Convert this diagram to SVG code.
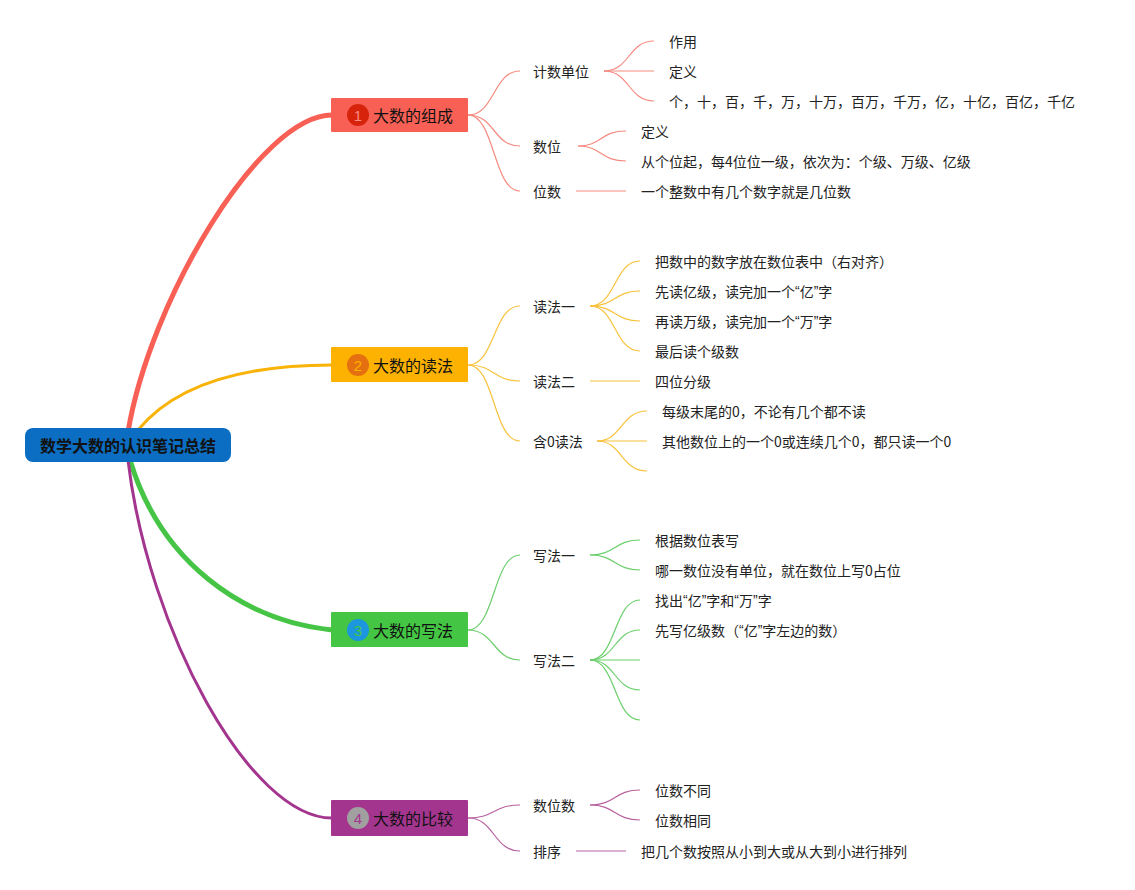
<svg xmlns="http://www.w3.org/2000/svg" width="1135" height="890" viewBox="0 0 1135 890">
<style>
text{font-family:"Noto Sans CJK SC","Liberation Sans",sans-serif;dominant-baseline:central;fill:#222}
.leaf{font-size:14px}
.topic{font-size:16px;fill:#111}
.num{font-size:15px;text-anchor:middle;font-family:"Liberation Sans",sans-serif}
.q{font-family:"Liberation Sans",sans-serif}
.c{fill:none}
.r{stroke:#f58a80;stroke-width:1.2}
.y{stroke:#f8c23c;stroke-width:1.2}
.g{stroke:#6ccf6c;stroke-width:1.2}
.p{stroke:#b8619f;stroke-width:1.2}
</style>
<rect width="1135" height="890" fill="#fff"/>
<g id="connectors" class="c">
  <path d="M128,432 C150,300 260,115 332,115" stroke="#f96055" stroke-width="5"/>
  <path d="M138,430 C175,385 240,365 332,365" stroke="#f9b207" stroke-width="3"/>
  <path d="M130,460 C160,560 240,620 332,630" stroke="#45c445" stroke-width="5"/>
  <path d="M128,460 C148,630 250,818 332,818" stroke="#a4358f" stroke-width="3"/>
  <!-- topic1 -->
  <g class="r">
    <path d="M468,115 C495,115 493,71 520,71"/>
    <path d="M468,115 C495,115 493,146 520,146"/>
    <path d="M468,115 C495,115 493,191 520,191"/>
    <path d="M604,71 C630,71 628,41 654,41"/>
    <path d="M604,71 L654,71"/>
    <path d="M604,71 C630,71 628,101 654,101"/>
    <path d="M578,146 C602,146 600,131 626,131"/>
    <path d="M578,146 C602,146 600,161 626,161"/>
    <path d="M576,191 L626,191"/>
  </g>
  <!-- topic2 -->
  <g class="y">
    <path d="M468,365 C495,365 493,306 520,306"/>
    <path d="M468,365 C495,365 493,381 520,381"/>
    <path d="M468,365 C495,365 493,441 520,441"/>
    <path d="M590,306 C616,306 614,261 640,261"/>
    <path d="M590,306 C616,306 614,291 640,291"/>
    <path d="M590,306 C616,306 614,321 640,321"/>
    <path d="M590,306 C616,306 614,351 640,351"/>
    <path d="M590,381 L640,381"/>
    <path d="M597,441 C622,441 621,411 647,411"/>
    <path d="M597,441 L647,441"/>
    <path d="M597,441 C622,441 621,471 647,471"/>
  </g>
  <!-- topic3 -->
  <g class="g">
    <path d="M468,630 C495,630 493,555 520,555"/>
    <path d="M468,630 C495,630 493,660 520,660"/>
    <path d="M590,555 C616,555 614,540 640,540"/>
    <path d="M590,555 C616,555 614,570 640,570"/>
    <path d="M590,660 C616,660 614,600 640,600"/>
    <path d="M590,660 C616,660 614,630 640,630"/>
    <path d="M590,660 L640,660"/>
    <path d="M590,660 C616,660 614,690 640,690"/>
    <path d="M590,660 C616,660 614,720 640,720"/>
  </g>
  <!-- topic4 -->
  <g class="p">
    <path d="M468,818 C495,818 493,805 520,805"/>
    <path d="M468,818 C495,818 493,851 520,851"/>
    <path d="M590,805 C616,805 614,790 640,790"/>
    <path d="M590,805 C616,805 614,820 640,820"/>
    <path d="M576,851 L626,851"/>
  </g>
</g>
<g id="root">
  <rect x="25" y="428" width="206" height="34" rx="8" fill="#0b6ec2"/>
  <text x="128" y="445" text-anchor="middle" style="font-size:16px;font-weight:bold;fill:#111">数学大数的认识笔记总结</text>
</g>
<g id="topic1">
  <rect x="331" y="98" width="137" height="34" rx="1" fill="#f96055"/>
  <circle cx="358" cy="115" r="11" fill="#d8230c"/>
  <text class="num" x="358" y="115" style="fill:#fb8a80">1</text>
  <text class="topic" x="373" y="115">大数的组成</text>
</g>
<g id="topic2">
  <rect x="331" y="347" width="137" height="35" rx="1" fill="#fdb101"/>
  <circle cx="358" cy="365" r="11" fill="#e5700f"/>
  <text class="num" x="358" y="365" style="fill:#fdb101">2</text>
  <text class="topic" x="373" y="365">大数的读法</text>
</g>
<g id="topic3">
  <rect x="331" y="612" width="137" height="35" rx="1" fill="#44c544"/>
  <circle cx="358" cy="630" r="11" fill="#1c96dc"/>
  <text class="num" x="358" y="630" style="fill:#44c544">3</text>
  <text class="topic" x="373" y="630">大数的写法</text>
</g>
<g id="topic4">
  <rect x="331" y="800" width="137" height="36" rx="1" fill="#a4358f"/>
  <circle cx="358" cy="818" r="11" fill="#a0a0a0"/>
  <text class="num" x="358" y="818" style="fill:#a4358f">4</text>
  <text class="topic" x="373" y="818">大数的比较</text>
</g>
<g id="t1-sub">
  <text class="leaf" x="533" y="71">计数单位</text>
  <text class="leaf" x="533" y="146">数位</text>
  <text class="leaf" x="533" y="191">位数</text>
  <text class="leaf" x="669" y="41">作用</text>
  <text class="leaf" x="669" y="71">定义</text>
  <text class="leaf" x="669" y="101">个，十，百，千，万，十万，百万，千万，亿，十亿，百亿，千亿</text>
  <text class="leaf" x="641" y="131">定义</text>
  <text class="leaf" x="641" y="161">从个位起，每4位位一级，依次为：个级、万级、亿级</text>
  <text class="leaf" x="641" y="191">一个整数中有几个数字就是几位数</text>
</g>
<g id="t2-sub">
  <text class="leaf" x="533" y="306">读法一</text>
  <text class="leaf" x="533" y="381">读法二</text>
  <text class="leaf" x="533" y="441">含0读法</text>
  <text class="leaf" x="655" y="261">把数中的数字放在数位表中（右对齐）</text>
  <text class="leaf" x="655" y="291">先读亿级，读完加一个<tspan class="q">“</tspan>亿<tspan class="q">”</tspan>字</text>
  <text class="leaf" x="655" y="321">再读万级，读完加一个<tspan class="q">“</tspan>万<tspan class="q">”</tspan>字</text>
  <text class="leaf" x="655" y="351">最后读个级数</text>
  <text class="leaf" x="655" y="381">四位分级</text>
  <text class="leaf" x="662" y="411">每级末尾的0，不论有几个都不读</text>
  <text class="leaf" x="662" y="441">其他数位上的一个0或连续几个0，都只读一个0</text>
</g>
<g id="t3-sub">
  <text class="leaf" x="533" y="555">写法一</text>
  <text class="leaf" x="533" y="660">写法二</text>
  <text class="leaf" x="655" y="540">根据数位表写</text>
  <text class="leaf" x="655" y="570">哪一数位没有单位，就在数位上写0占位</text>
  <text class="leaf" x="655" y="600">找出<tspan class="q">“</tspan>亿<tspan class="q">”</tspan>字和<tspan class="q">“</tspan>万<tspan class="q">”</tspan>字</text>
  <text class="leaf" x="655" y="630">先写亿级数（<tspan class="q">“</tspan>亿<tspan class="q">”</tspan>字左边的数）</text>
</g>
<g id="t4-sub">
  <text class="leaf" x="533" y="805">数位数</text>
  <text class="leaf" x="533" y="851">排序</text>
  <text class="leaf" x="655" y="790">位数不同</text>
  <text class="leaf" x="655" y="820">位数相同</text>
  <text class="leaf" x="641" y="851">把几个数按照从小到大或从大到小进行排列</text>
</g>
</svg>
